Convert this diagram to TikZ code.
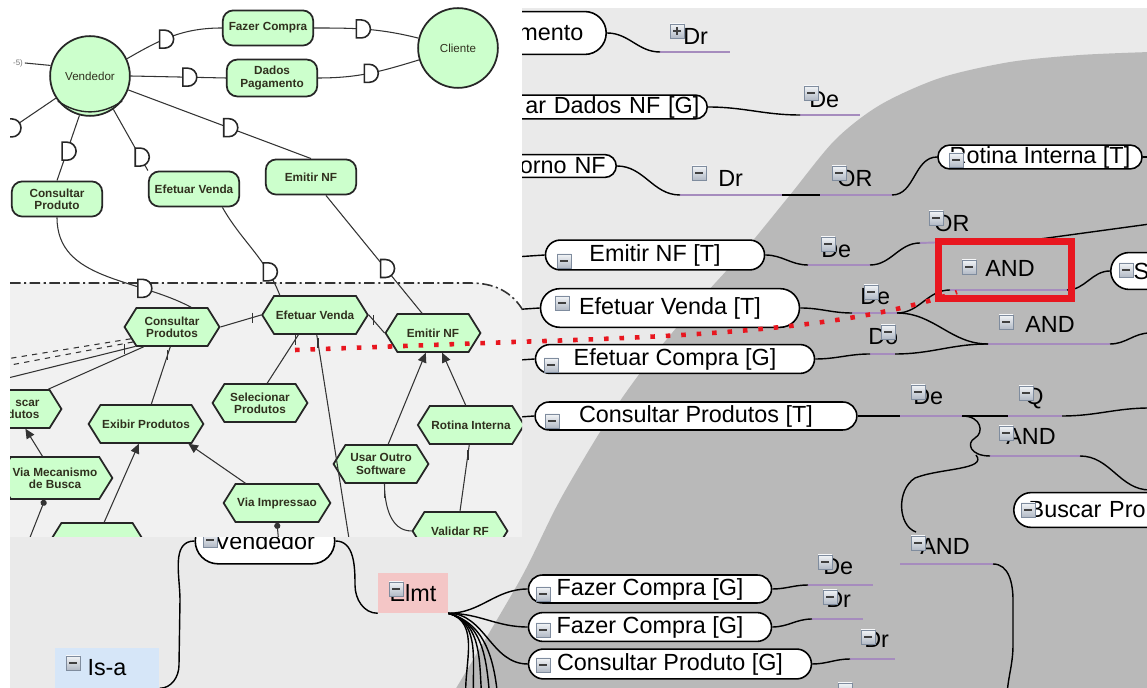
\documentclass[tikz,border=0pt]{standalone}
\usepackage{fontspec}
\setmainfont{Liberation Sans}
\usetikzlibrary{shapes.symbols,arrows.meta,decorations.markings}

\definecolor{maplight}{HTML}{EAEAEA}
\definecolor{mapdark}{HTML}{B9B9B9}
\definecolor{epcgray}{HTML}{F1F1F1}
\definecolor{epcgreen}{HTML}{CCFFCC}
\definecolor{epcink}{HTML}{30301E}
\definecolor{linkpurple}{HTML}{A68CBE}
\definecolor{markred}{HTML}{E8161F}
\definecolor{isablue}{HTML}{D6E6F8}
\definecolor{elmtred}{HTML}{F4C6C6}
\definecolor{boxedge}{HTML}{7F8C9E}
\definecolor{boxtop}{HTML}{F2F4F7}
\definecolor{boxbot}{HTML}{B2BAC6}

\newcommand{\mapfont}{\fontsize{13.3pt}{15pt}\selectfont}
\newcommand{\epcfont}{\fontsize{6.7pt}{6.9pt}\selectfont\bfseries}
\newcommand{\actorfont}{\fontsize{6.6pt}{7pt}\selectfont}

\begin{document}
\begin{tikzpicture}[x=0.02cm, y=-0.02cm,
  pill/.style={draw=black, line width=0.9pt, fill=white, inner sep=0pt,
    minimum height=#1, rounded corners=#1/2, font=\mapfont},
  rel/.style={anchor=base west, inner sep=0pt, font=\mapfont},
  wire/.style={line width=0.8pt},
  relline/.style={draw=linkpurple, line width=1.1pt},
  actor/.style={circle, draw=black!85, line width=1pt, fill=epcgreen,
    minimum size=45.4pt, inner sep=0pt, font=\actorfont, text=epcink},
  goal/.style={draw=black!85, line width=1pt, fill=epcgreen, rounded corners=6pt,
    minimum width=51.5pt, minimum height=20pt, inner sep=1pt, align=center,
    font=\epcfont, text=epcink},
  task/.style={signal, signal to=west and east, signal pointer angle=116,
    draw=black!85, line width=1pt, fill=epcgreen, minimum width=54pt,
    minimum height=21.5pt, inner sep=1pt, align=center, font=\epcfont, text=epcink},
  epcline/.style={line width=0.6pt, draw=black!80},
  epctip/.style={-{Triangle[length=5.5pt,width=5pt]}},
  epcdot/.style={{Circle[length=3.5pt]}-},
  dotred/.style={draw=markred, line width=2.6pt, dash pattern=on 2.6pt off 6.2pt},
  dmark/.style={postaction={decorate, decoration={markings,
    mark=at position #1 with {\pic{dgate};}}}},
  barmark/.style={postaction={decorate, decoration={markings,
    mark=at position #1 with {\pic{crossbar};}}}},
  minusbox/.pic={
    \draw[draw=boxedge, line width=0.5pt, top color=boxtop, bottom color=boxbot] (-7,-7) rectangle (7,7);
    \draw[line width=1.3pt, black!75] (-4,0) -- (4,0);
  },
  plusbox/.pic={
    \draw[draw=boxedge, line width=0.5pt, top color=boxtop, bottom color=boxbot] (-7,-7) rectangle (7,7);
    \draw[line width=1pt, black!75] (-4,0) -- (4,0) (0,-4) -- (0,4);
  },
  dgate/.pic={\draw[fill=white, line width=0.9pt, draw=black!85] (-5,-9) -- (0,-9) arc(-90:90:9) -- (-5,9) -- cycle;},
  crossbar/.pic={\draw[line width=0.7pt, draw=black!80] (0,-5) -- (0,5);}
]
\useasboundingbox (0,0) rectangle (1147,688);
\clip (0,0) rectangle (1147,688);

% backgrounds
\fill[white] (0,0) rectangle (1150,690);
\fill[maplight] (10,8) rectangle (1150,690);
\fill[mapdark] plot[smooth] coordinates {(455,690) (520,580) (560,500) (610,416)
  (650,360) (700,300) (745,250) (790,195) (835,140) (880,105) (940,78) (1010,62)
  (1080,55) (1150,52)} -- (1150,690) -- cycle;

% mind map
\node[pill=24.4pt, anchor=east, inner xsep=13pt, text width=150pt, align=right] (mmA) at (607,33) {mento};
\node[pill=13.6pt, anchor=east, inner xsep=4.5pt, text width=150pt, align=right] (mmB) at (708,107) {ar Dados NF [G]};
\node[pill=13pt, anchor=east, inner xsep=6pt, text width=150pt, align=right] (mmC) at (617,166) {orno NF};
\node[pill=13.6pt, minimum width=116.2pt] (mmRI) at (1040,157) {Rotina Interna [T]};
\node[pill=17pt, minimum width=124.7pt] (mmEmit) at (655,255) {Emitir NF [T]};
\node[pill=22pt, minimum width=147.4pt] (mmEV) at (670,308) {Efetuar Venda [T]};
\node[pill=16.4pt, minimum width=158.8pt] (mmEC) at (675,359) {Efetuar Compra [G]};
\node[pill=15.9pt, minimum width=183.1pt] (mmCP) at (696,416) {Consultar Produtos [T]};
\node[pill=21pt, anchor=west, inner xsep=13pt, text width=60pt, align=left] (mmS) at (1110,271) {S};
\node[pill=19.8pt, anchor=west, inner xsep=8.5pt, text width=120pt, align=left] (mmBP) at (1013,510) {Buscar Pro};
\node[pill=26pt, minimum width=79.4pt] (mmVend) at (265,541) {Vendedor};
\node[pill=15.9pt, minimum width=138.3pt] (mmFC1) at (650,589) {Fazer Compra [G]};
\node[pill=16.4pt, minimum width=138.3pt] (mmFC2) at (650,627) {Fazer Compra [G]};
\node[pill=17pt, minimum width=161pt] (mmCPG) at (670,664) {Consultar Produto [G]};
\node[fill=isablue, minimum width=59.5pt, minimum height=22.7pt, inner sep=0pt, font=\mapfont] (isa) at (107,668) {Is-a};
\node[fill=elmtred, minimum width=39.7pt, minimum height=22.7pt, inner sep=0pt, font=\mapfont] (elmt) at (413,593) {Elmt};

% relation labels
\node[rel] (rDr1) at (683,45) {Dr};
\node[rel] (rDe1) at (809,108) {De};
\node[rel] (rDr2) at (718,187) {Dr};
\node[rel] (rOR1) at (837,187) {OR};
\node[rel] (rOR2) at (934,232) {OR};
\node[rel] (rDe2) at (821,258) {De};
\node[rel] (rAND1) at (985,277) {AND};
\node[rel] (rDe3) at (860,305) {De};
\node[rel] (rDo) at (868,345) {Do};
\node[rel] (rAND2) at (1025,333) {AND};
\node[rel] (rDe4) at (913,405) {De};
\node[rel] (rQ) at (1025,405) {Q};
\node[rel] (rAND3) at (1006,445) {AND};
\node[rel] (rAND4) at (920,555) {AND};
\node[rel] (rDe5) at (823,575) {De};
\node[rel] (rDr3) at (826,608) {Dr};
\node[rel] (rDr4) at (864,648) {Dr};

% underline ends and free ends
\coordinate (u1a) at (660,52);   \coordinate (u1b) at (730,52);
\coordinate (u2a) at (800,115);  \coordinate (u2b) at (860,115);
\coordinate (u3a) at (680,195);  \coordinate (u3b) at (782,195);
\coordinate (u4a) at (820,195);  \coordinate (u4b) at (892,195);
\coordinate (u5a) at (920,243);  \coordinate (u5b) at (1040,239);
\coordinate (u6a) at (808,265);  \coordinate (u6b) at (870,265);
\coordinate (u7a) at (950,290);  \coordinate (u7b) at (1067,290);
\coordinate (u8a) at (852,313);  \coordinate (u8b) at (897,313);
\coordinate (u9a) at (870,354);  \coordinate (u9b) at (895,354);
\coordinate (u10a) at (988,344); \coordinate (u10b) at (1110,344);
\coordinate (u11a) at (900,416); \coordinate (u11b) at (962,416);
\coordinate (u12a) at (1008,416); \coordinate (u12b) at (1062,416);
\coordinate (u13a) at (990,456); \coordinate (u13b) at (1080,456);
\coordinate (u14a) at (900,564); \coordinate (u14b) at (993,564);
\coordinate (u15a) at (808,585); \coordinate (u15b) at (873,585);
\coordinate (u16a) at (812,619); \coordinate (u16b) at (863,619);
\coordinate (u17a) at (850,659); \coordinate (u17b) at (895,659);
\coordinate (e1) at (1150,157); \coordinate (e2) at (1150,224);
\coordinate (e3) at (1150,333); \coordinate (e4) at (1150,408);
\coordinate (e5) at (1150,490); \coordinate (e6) at (1007,700);
\coordinate (lp) at (976,455);  \coordinate (lq) at (916,532);
\foreach \x [count=\i] in {466,474,482,490,498} \coordinate (fan\i) at (\x,700);

\foreach \a/\b in {u1a/u1b,u2a/u2b,u3a/u3b,u4a/u4b,u5a/u5b,u6a/u6b,u7a/u7b,u8a/u8b,
  u9a/u9b,u10a/u10b,u11a/u11b,u12a/u12b,u13a/u13b,u14a/u14b,u15a/u15b,u16a/u16b,u17a/u17b}
  \draw[relline] (\a) -- (\b);

\draw[wire] (mmA.east) to[out=0,in=180] (u1a);
\draw[wire] (mmB.east) to[out=0,in=180] (u2a);
\draw[wire] (mmC.east) to[out=0,in=180] (u3a);
\draw[wire] (u3b) -- (u4a);
\draw[wire] (u4b) to[out=0,in=180] (mmRI.west);
\draw[wire] (mmRI.east) -- (e1);
\draw[wire] (mmEmit.east) to[out=0,in=180] (u6a);
\draw[wire] (u6b) to[out=0,in=180] (u5a);
\draw[wire] (u5b) -- (e2);
\draw[wire] (mmEV.east) to[out=0,in=180] (u8a);
\draw[wire] (u8b) to[out=0,in=180] (u7a);
\draw[wire] (u8b) to[out=0,in=180] (u10a);
\draw[wire] (mmEC.east) to[out=0,in=180] (u9a);
\draw[wire] (u9b) to[out=0,in=180] (u10a);
\draw[wire] (u7b) to[out=0,in=180] (mmS.west);
\draw[wire] (u10b) to[out=0,in=180] (e3);
\draw[wire] (mmCP.east) to[out=0,in=180] (u11a);
\draw[wire] (u11b) -- (u12a);
\draw[wire] (u12b) to[out=0,in=180] (e4);
\draw[wire] (u11b) .. controls (982,416) and (984,433) .. (975,438)
  .. controls (966,443) and (970,456) .. (u13a);
\draw[wire] (lp) .. controls (988,470) and (940,468) .. (915,478)
  .. controls (896,490) and (898,526) .. (lq);
\draw[wire] (u13b) to[out=0,in=180] (e5);
\draw[wire] (u14b) to[out=0,in=90] (1013,600) -- (1013,645) to[out=-90,in=90] (e6);
\draw[wire] (mmFC1.east) to[out=0,in=180] (u15a);
\draw[wire] (mmFC2.east) to[out=0,in=180] (u16a);
\draw[wire] (mmCPG.east) to[out=0,in=180] (u17a);
\foreach \t in {mmEmit,mmEV,mmEC,mmCP} \draw[wire] (\t.west) -- ++(-30,2);
\draw[wire] (mmVend.west) to[out=180,in=90] (180,600) -- (179,665) to[out=-90,in=0] (isa.south east);
\draw[wire] (mmVend.east) to[out=0,in=90] (355,585) to[out=-90,in=180] (elmt.south west);
\foreach \t in {mmFC1,mmFC2,mmCPG} \draw[wire] (elmt.south east) to[out=0,in=180] (\t.west);
\foreach \i in {1,...,5} \draw[wire] (elmt.south east) to[out=-15,in=95] (fan\i);

% expand boxes
\foreach \p in {(564,261),(562,303),(551,365),(552,421),(956,160),(1126,270),(1028,510),
  (210,540),(543,594),(543,630),(543,665),(73,663),(396,589),
  (811,93),(699,173),(839,173),(936,218),(828,244),(969,267),(871,292),(888,332),
  (1006,322),(918,392),(1026,393),(1006,433),(918,543),(825,562),(830,597),(868,637),(845,690)}
  \pic at \p {minusbox};
\pic at (677,31) {plusbox};

\node[draw=markred, line width=4pt, minimum width=75.4pt, minimum height=32.9pt] (redbox) at (1005,270) {};

% inset diagram
\fill[white] (0,0) rectangle (522,537);
\begin{scope}
  \clip (10,0) rectangle (522,537);
  \fill[epcgray] (10,283) -- (470,283) to[out=0,in=120] (524,312) -- (524,540) -- (10,540) -- cycle;
  \draw[line width=0.9pt, black!80, dash pattern=on 6pt off 2pt on 1.2pt off 2pt]
    (10,283) -- (470,283) to[out=0,in=120] (524,312);

  \node[actor] (iVend) at (90,76) {Vendedor};
  \node[actor] (iCli) at (458,48) {Cliente};
  \node[goal] (iFC) at (268,28) {Fazer Compra};
  \node[goal, minimum height=21pt] (iDP) at (272,78) {Dados\\Pagamento};
  \node[goal] (iENF) at (311,177) {Emitir NF};
  \node[goal] (iEV) at (194,189) {Efetuar Venda};
  \node[goal] (iCPr) at (57,199) {Consultar\\Produto};
  \node[font=\fontsize{4.5pt}{5pt}\selectfont, text=black!55, inner sep=1pt] (iCut) at (18,63) {-5)};

  \node[task] (hCP) at (172,327) {Consultar\\Produtos};
  \node[task] (hEV) at (315,315) {Efetuar Venda};
  \node[task] (hENF) at (433,333) {Emitir NF};
  \node[task, text width=29pt, align=right] (hBP) at (14,409) {scar\\dutos};
  \node[task] (hEP) at (146,424) {Exibir Produtos};
  \node[task] (hSP) at (260,403) {Selecionar\\Produtos};
  \node[task, minimum width=60pt, minimum height=24pt] (hVM) at (55,478) {Via Mecanismo\\de Busca};
  \node[task] (hVI) at (277,503) {Via Impressao};
  \node[task] (hUO) at (381,464) {Usar Outro\\Software};
  \node[task] (hRI) at (471,425) {Rotina Interna};
  \node[task] (hVR) at (460,531) {Validar RF};
  \node[task] (hVE) at (97,542) {Via Email};

  \draw[line width=0.8pt, black!85] (iVend.218) to[out=-35,in=-145] (iVend.322);

  \coordinate (iL2) at (6,132);
  \coordinate (iL3) at (0,360); \coordinate (iL4) at (0,367); \coordinate (iL5) at (0,380);
  \coordinate (iL6) at (350,545); \coordinate (iL7) at (279,545); \coordinate (iL8) at (27,545);

  \draw[epcline] (iVend.165) -- (iCut.east);
  \draw[epcline, dmark=0.88] (iVend.213) -- (iL2);
  \draw[epcline, dmark=0.42] (iVend.25) to[out=30,in=180] (iFC.west);
  \draw[epcline, dmark=0.45] (iFC.east) to[out=0,in=166] (iCli.166);
  \draw[epcline, dmark=0.6] (iVend.east) -- (iDP.west);
  \draw[epcline, dmark=0.5] (iDP.east) to[out=0,in=197] (iCli.197);
  \draw[epcline, dmark=0.55] (iVend.-20) -- (iENF.north);
  \draw[epcline, dmark=0.78] (iVend.-55) -- (iEV.north west);
  \draw[epcline, dmark=0.55] (iVend.-105) -- (iCPr.north);
  \draw[epcline, dmark=0.7] (iCPr.south) to[out=-90,in=152] (hCP.46);
  \draw[epcline, dmark=0.75] (iEV.-33) to[out=-60,in=111] (hEV.151);
  \draw[epcline, dmark=0.62] (iENF.-51) -- (hENF.119);

  \draw[epcline, barmark=0.78] (hCP.east) -- (hEV.west);
  \draw[epcline, barmark=0.3] (hEV.east) -- (hENF.west);
  \draw[epcline, dashed] (hCP.196) -- (iL3);
  \draw[epcline, dashed] (hCP.201) -- (iL4);
  \draw[epcline, barmark=0.08] (hCP.208) -- (iL5);
  \draw[epcline] (hCP.215) -- (hBP.30);
  \draw[epcline, barmark=0.15] (hCP.-95) -- (hEP.75);
  \draw[epcline, barmark=0.1] (hEV.-130) -- (hSP.70);
  \draw[epcline, barmark=0.04] (hEV.-85) -- (iL6);
  \draw[epcline, epctip] (hUO.70) -- (hENF.-110);
  \draw[epcline, epctip] (hRI.105) -- (hENF.-65);
  \draw[epcline, barmark=0.15] (hRI.-95) -- (hVR.north);
  \draw[epcline, barmark=0.15] (hUO.-80) to[out=-90,in=180] (hVR.west);
  \draw[epcline, epctip] (hVI.148) -- (hEP.-25);
  \draw[epcline, epcdot] (hVI.south) -- (iL7);
  \draw[epcline, epctip] (hVE.70) -- (hEP.-110);
  \draw[epcline, epctip] (hVM.120) -- (hBP.-60);
  \draw[epcline, epcdot] (hVM.-115) -- (iL8);
\end{scope}

% red dotted pointer
\coordinate (dotA) at (295,350);
\coordinate (dotB) at (957,292);
\draw[dotred] (dotA) -- (513,342) .. controls (720,336) and (860,326) .. (dotB);
\end{tikzpicture}
\end{document}
